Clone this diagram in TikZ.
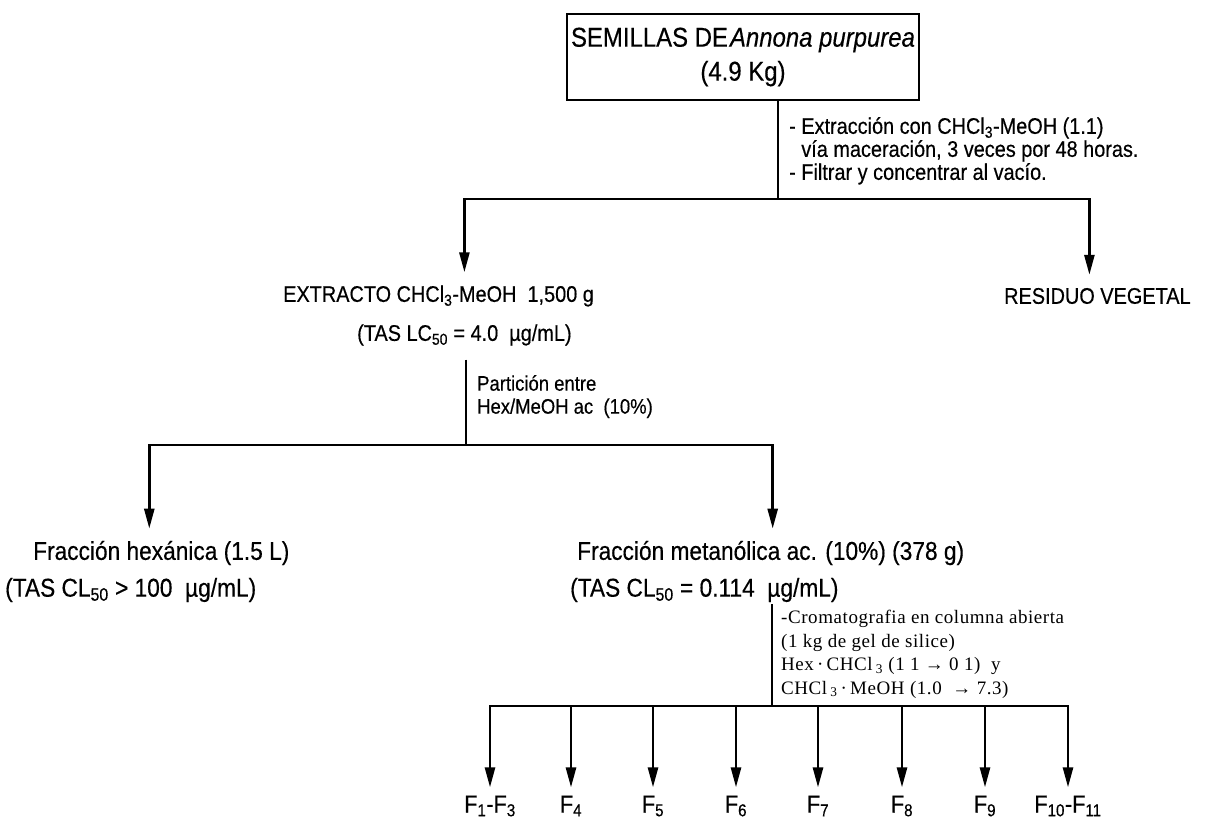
\documentclass[tikz,border=0pt]{standalone}
\usepackage{fontspec}
\setmainfont{Liberation Sans}[FakeStretch=0.88,FakeBold=0.4]
\newfontfamily\serifnote{Liberation Serif}[LetterSpace=3]
\usetikzlibrary{arrows.meta}
\begin{document}
\begin{tikzpicture}[x=1pt,y=-1pt,
  stem/.style={line width=1.6pt},
  down/.style={line width=2.6pt,line join=miter,-{Triangle[length=20pt,width=10pt]}},
  upper/.style={inner sep=0pt,font=\fontsize{22.6}{26}\selectfont},
  lower/.style={inner sep=0pt,font=\fontsize{25.8}{30}\selectfont},
  note/.style={inner sep=0pt,align=left,anchor=north west,font=\fontsize{22.6}{23}\selectfont},
  chrom/.style={inner sep=0pt,align=left,anchor=north west,font=\serifnote\fontsize{19}{23.5}\selectfont},
  frac/.style={inner sep=0pt,font=\fontsize{24.6}{28}\selectfont},
  titlebox/.style={draw,line width=1.5pt,inner sep=0pt,minimum width=352pt,minimum height=86pt,
    align=center,font=\fontsize{27.2}{34}\selectfont}
]
\useasboundingbox (0,0) rectangle (1208,826);

% starting material
\node[titlebox] (seeds) at (743,57) {SEMILLAS DE\hspace{2pt}\textit{Annona purpurea}\\(4.9 Kg)};
\coordinate (j1) at (778,199);
\draw[stem] (seeds.south -| j1) -- (j1);
\node[note] (extr) at (789,117) {- Extracción con CHCl\textsubscript{3}-MeOH (1.1)\\
  \hphantom{- }vía maceración, 3 veces por 48 horas.\\
  - Filtrar y concentrar al vacío.};

% first split
\node[upper,anchor=west] (ext) at (283,296) {EXTRACTO CHCl\textsubscript{3}-MeOH\ \ 1,500 g};
\node[upper,anchor=west] (extlc) at (357,335) {(TAS LC\textsubscript{50} = 4.0\ \ µg/mL)};
\node[upper,anchor=west] (res) at (1004,296) {RESIDUO VEGETAL};
\draw[down,shorten >=13pt] (j1) -| (ext.north -| extlc.north);
\draw[down,shorten >=13pt] (j1) -| ([xshift=-8pt]res.north);

% partition
\coordinate (j2) at (466,445);
\draw[stem,shorten <=14pt] (extlc.south -| j2) -- (j2);
\node[note,font=\fontsize{21}{23}\selectfont] (part) at (477,375) {Partición entre\\Hex/MeOH ac\ \ (10\%)};

\node[lower,anchor=west] (hex) at (33,553) {Fracción hexánica (1.5 L)};
\node[lower,anchor=west] (hexcl) at (5,590) {(TAS CL\textsubscript{50} > 100\ \ µg/mL)};
\node[lower,anchor=west] (met) at (577,553) {Fracción metanólica ac. (10\%) (378 g)};
\node[lower,anchor=west] (metcl) at (570,590) {(TAS CL\textsubscript{50} = 0.114\ \ µg/mL)};
\draw[down,shorten >=12pt] (j2) -| ([xshift=-12pt]hex.north);
\draw[down,shorten >=12pt] (j2) -| ([xshift=2pt]met.north);

% column chromatography
\coordinate (j3) at (772,706);
\draw[stem,shorten <=2pt] (metcl.south -| j3) -- (j3);
\node[chrom] (col) at (781,610) {-Cromatografia en columna abierta\\
  (1 kg de gel de silice)\\
  Hex\,·\,CHCl\,\textsubscript{3} (1 1 → 0 1)\ \ y\\
  CHCl\,\textsubscript{3}\,·\,MeOH (1.0\ \ → 7.3)};

% fractions
\node[frac] (f1) at (490,806) {F\textsubscript{1}-F\textsubscript{3}};
\node[frac] (f4) at (571,806) {F\textsubscript{4}};
\node[frac] (f5) at (653,806) {F\textsubscript{5}};
\node[frac] (f6) at (736,806) {F\textsubscript{6}};
\node[frac] (f7) at (818,806) {F\textsubscript{7}};
\node[frac] (f8) at (902,806) {F\textsubscript{8}};
\node[frac] (f9) at (985,806) {F\textsubscript{9}};
\node[frac] (f10) at (1068,806) {F\textsubscript{10}-F\textsubscript{11}};
\foreach \f in {f1,f4,f5,f6,f7,f8,f9,f10}
  \draw[down,shorten >=8pt] (j3) -| (\f.north);
\end{tikzpicture}
\end{document}
